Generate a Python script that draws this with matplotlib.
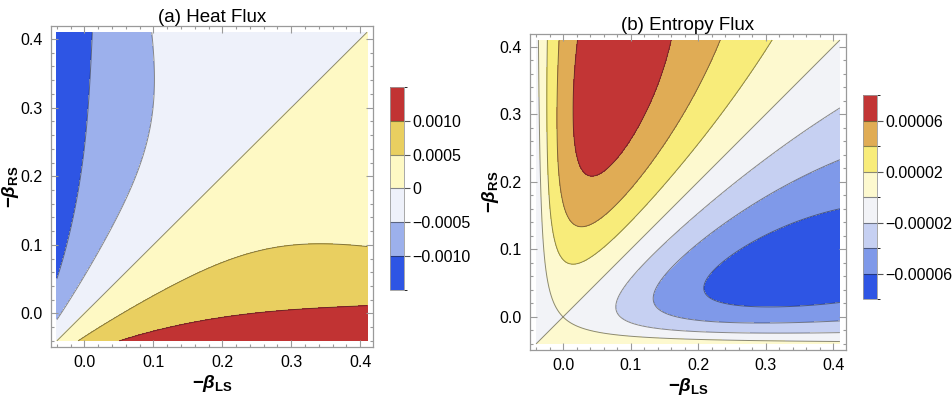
"""Contour maps of heat flux and entropy flux over the two inverse-temperature offsets."""
import numpy as np
import matplotlib; matplotlib.use("Agg")
import matplotlib.pyplot as plt
from matplotlib.colors import ListedColormap, BoundaryNorm
from matplotlib.colorbar import ColorbarBase
from matplotlib.ticker import MultipleLocator

plt.rcParams["font.family"] = ["Liberation Sans", "DejaVu Sans"]
plt.rcParams["mathtext.fontset"] = "custom"
plt.rcParams["mathtext.rm"] = "Liberation Sans:bold"
plt.rcParams["mathtext.it"] = "Liberation Sans:bold:italic"
plt.rcParams["mathtext.bf"] = "Liberation Sans:bold"

# plotted window of -beta_LS / -beta_RS
B_MIN, B_MAX = -0.04, 0.41
FRAME = (-0.049, 0.419)

# heat flux J = (x - y) exp(c0 + c1 s + c2 s^2 + c3 p + c4 s p), s = x + y, p = x y
HEAT_COEF = [-4.41, -5.48, 4.21, 20.0, -55.7]
heat_levels = [-0.0010, -0.0005, 0.0, 0.0005, 0.0010]
heat_colors = ["#2e55e4", "#9cb0ec", "#eef1fa", "#fef9c4", "#e9cf60", "#c13333"]
heat_ticklabels = ["\u22120.0010", "\u22120.0005", "0", "0.0005", "0.0010"]

# entropy flux S = D (y - x)(x + y + k x y) / (x + y + s0)^m
ENT_D, ENT_K, ENT_S0, ENT_M = 0.000625, 25.0, 0.72, 6.87
ent_levels = [-0.00006, -0.00004, -0.00002, 0.0, 0.00002, 0.00004, 0.00006]
ent_colors = ["#2e55e4", "#7f99e9", "#c6d0f2", "#f2f3f7",
              "#fdf9cf", "#f8ec7a", "#e0ac55", "#c23535"]
ent_ticks = [1, 3, 5, 7]
ent_ticklabels = ["\u22120.00006", "\u22120.00002", "0.00002", "0.00006"]

xs = np.linspace(B_MIN, B_MAX, 601)
ys = np.linspace(B_MIN, B_MAX, 597)
X, Y = np.meshgrid(xs, ys)
S, P = X + Y, X * Y

c0, c1, c2, c3, c4 = HEAT_COEF
heat = (X - Y) * np.exp(c0 + c1 * S + c2 * S**2 + c3 * P + c4 * S * P)
entropy = ENT_D * (Y - X) * (S + ENT_K * P) / (S + ENT_S0) ** ENT_M

fig = plt.figure(figsize=(9.53, 3.98), dpi=100)
ax_a = fig.add_axes([0.0532, 0.1281, 0.3385, 0.8065])
cax_a = fig.add_axes([0.4092, 0.2714, 0.0150, 0.5101])
ax_b = fig.add_axes([0.5561, 0.1206, 0.3316, 0.7940])
cax_b = fig.add_axes([0.9059, 0.2487, 0.0141, 0.5126])

FRAME_COL = "#9a9a9a"
LINE_COL = (0.1, 0.1, 0.1, 0.5)


def draw_panel(ax, Z, levels, colors, title, ylabel_x):
    bounds = [-1.0] + list(levels) + [1.0]
    ax.contourf(X, Y, Z, levels=bounds, colors=colors)
    ax.contour(X, Y, Z, levels=levels, colors=[LINE_COL], linewidths=0.7,
               linestyles="solid")
    ax.set_xlim(*FRAME); ax.set_ylim(*FRAME)
    ax.xaxis.set_major_locator(MultipleLocator(0.1))
    ax.yaxis.set_major_locator(MultipleLocator(0.1))
    ax.xaxis.set_minor_locator(MultipleLocator(0.02))
    ax.yaxis.set_minor_locator(MultipleLocator(0.02))
    ax.xaxis.set_major_formatter(lambda v, p: f"{v:.1f}")
    ax.yaxis.set_major_formatter(lambda v, p: f"{v:.1f}")
    ax.tick_params(which="both", direction="in", top=True, right=True,
                   color=FRAME_COL, labelsize=11.5, width=0.8)
    ax.tick_params(which="major", length=5, pad=6)
    ax.tick_params(which="minor", length=2.5)
    for sp in ax.spines.values():
        sp.set_color(FRAME_COL); sp.set_linewidth(0.9)
    ax.set_title(title, fontsize=13.5, pad=3)
    ax.text(0.5, -0.115, r"$-\beta_{\mathrm{LS}}$", transform=ax.transAxes,
            ha="center", va="center", fontsize=13.5)
    ax.text(ylabel_x, 0.5, r"$-\beta_{\mathrm{RS}}$", transform=ax.transAxes,
            ha="center", va="center", rotation=90, fontsize=13.5)


def draw_bar(cax, colors, ticks, labels):
    n = len(colors)
    cb = ColorbarBase(cax, cmap=ListedColormap(colors),
                      norm=BoundaryNorm(np.arange(n + 1), n), ticks=ticks)
    cb.set_ticklabels(labels)
    cb.outline.set_edgecolor(FRAME_COL); cb.outline.set_linewidth(0.6)
    for b in range(1, n):
        cax.axhline(b, color=LINE_COL, lw=0.8)
    cax.tick_params(length=4, width=0.8, color="#555555", labelsize=11.5, pad=2)


draw_panel(ax_a, heat, heat_levels, heat_colors, "(a) Heat Flux", -0.125)
draw_bar(cax_a, heat_colors, [1, 2, 3, 4, 5], heat_ticklabels)

draw_panel(ax_b, entropy, ent_levels, ent_colors, "(b) Entropy Flux", -0.125)
draw_bar(cax_b, ent_colors, ent_ticks, ent_ticklabels)

fig.savefig("out.png", dpi=100)
plt.close(fig)
